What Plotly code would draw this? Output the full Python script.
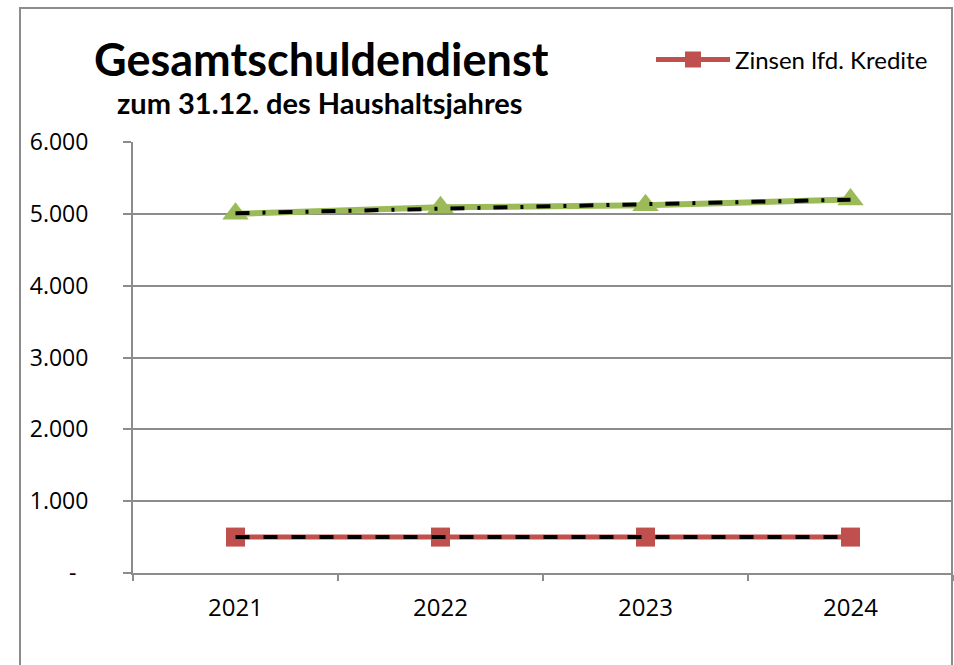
import numpy as np
import plotly.graph_objects as go

years = ["2021", "2022", "2023", "2024"]
gesamt = [5000, 5090, 5120, 5200]
zinsen = [500, 500, 500, 500]
y_tickvals = [0, 1000, 2000, 3000, 4000, 5000, 6000]
y_ticktext = ["-\u00a0\u00a0", "1.000", "2.000", "3.000", "4.000", "5.000", "6.000"]

GREEN = "#9BBB59"
RED = "#C0504D"
GRID = "#8C8C8C"

xi = np.arange(len(years))
trend_g = np.polyval(np.polyfit(xi, gesamt, 1), xi)
trend_r = np.polyval(np.polyfit(xi, zinsen, 1), xi)

W, H = 954, 665
L, R, T, B = 133, 1, 142, 92
pw, ph = W - L - R, H - T - B

def px(x):
    return (x - L) / pw

def py(y):
    return 1 - (y - T) / ph

fig = go.Figure()
fig.add_trace(go.Scatter(
    x=years, y=gesamt, mode="lines+markers", name="Gesamtschuldendienst",
    showlegend=False,
    line=dict(color=GREEN, width=6),
    marker=dict(symbol="triangle-up", size=23, color=GREEN),
))
fig.add_trace(go.Scatter(
    x=years, y=zinsen, mode="lines+markers", name="Zinsen lfd. Kredite",
    line=dict(color=RED, width=5),
    marker=dict(symbol="square", size=19, color=RED),
))
fig.add_trace(go.Scatter(
    x=years, y=trend_g, mode="lines", showlegend=False, hoverinfo="skip",
    line=dict(color="black", width=4, dash="14px,13px,3px,13px"),
))
fig.add_trace(go.Scatter(
    x=years, y=trend_r, mode="lines", showlegend=False, hoverinfo="skip",
    line=dict(color="black", width=4, dash="14px,14px"),
))

fig.update_xaxes(
    type="category", range=[-0.5, 3.5],
    showgrid=False, showline=True, linecolor=GRID, linewidth=2,
    ticks="outside", tickson="boundaries", ticklen=6, tickcolor=GRID, tickwidth=2,
    tickfont=dict(family="Open Sans", size=24, color="black"),
    ticklabelstandoff=12, fixedrange=True,
)
fig.update_yaxes(
    range=[0, 6000], tickvals=y_tickvals, ticktext=y_ticktext,
    showgrid=True, gridcolor=GRID, gridwidth=1.5,
    showline=True, linecolor=GRID, linewidth=2, zeroline=False,
    ticks="outside", ticklen=8, tickcolor=GRID, tickwidth=2,
    tickfont=dict(family="Open Sans", size=23, color="black"),
    ticklabelstandoff=30, fixedrange=True,
)

fig.add_shape(type="rect", xref="paper", yref="paper",
              x0=px(20), x1=px(952), y0=py(700), y1=py(8),
              line=dict(color=GRID, width=2), fillcolor="rgba(0,0,0,0)", layer="below")

fig.add_annotation(text="<b>Gesamtschuldendienst</b>", xref="paper", yref="paper",
                   x=px(321), y=py(59), xanchor="center", yanchor="middle",
                   height=46, valign="middle",
                   showarrow=False, font=dict(family="Lato", size=45, color="black"))
fig.add_annotation(text="<b>zum 31.12. des Haushaltsjahres</b>", xref="paper", yref="paper",
                   x=px(320), y=py(102), xanchor="center", yanchor="middle",
                   height=34, valign="middle",
                   showarrow=False, font=dict(family="Lato", size=29, color="black"))

fig.update_layout(
    width=W, height=H,
    margin=dict(l=L, r=R, t=T, b=B),
    paper_bgcolor="white", plot_bgcolor="white",
    showlegend=True,
    legend=dict(x=px(651), y=py(60), xanchor="left", yanchor="middle",
                font=dict(family="Lato", size=24, color="black"),
                itemwidth=74, bgcolor="rgba(0,0,0,0)"),
)

fig.write_html("out.html", config={"displayModeBar": False},
               post_script="document.body.style.margin='0';document.body.style.overflow='hidden';")
